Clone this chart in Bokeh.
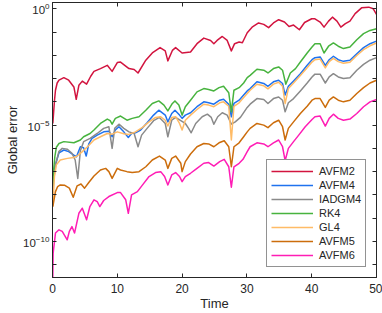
import numpy as np
from bokeh.plotting import figure
from bokeh.models import (Range1d, FixedTicker, LogAxis, LinearAxis, Legend, LegendItem)
from bokeh.embed import file_html
from bokeh.resources import INLINE

# ---- data: time and log10(global error) ----
t_avfm2 = [0.05, 0.31, 0.46, 0.72, 1.0, 1.75, 2.5, 3.3, 3.66, 4.07, 4.6, 5.26, 5.9, 6.4, 7.4,
           8.45, 9.2, 10.0, 10.5, 11.8, 12.6, 13.2, 14.4, 15.4, 16.6, 17.4, 17.8, 18.5, 19.0, 20.0,
           21.3, 22.3, 23.35, 24.4, 24.9, 25.4, 26.2, 26.96, 27.6, 28.1, 28.8, 29.3, 30.05, 30.8, 31.8,
           32.6, 33.35, 34.1, 34.9, 35.8, 36.5, 37.2, 38.1, 38.9, 40.0, 40.5, 41.3, 41.9, 42.6, 43.2,
           43.9, 44.5, 45.2, 45.9, 46.7, 47.7, 48.8, 49.5, 50.0]
lg_avfm2 = [-4.93, -3.93, -3.5, -3.19, -3.07, -2.96, -3.07, -3.36, -3.89, -3.29, -3.11, -3.24, -2.9, -2.69, -2.57,
            -2.43, -2.69, -2.31, -2.29, -2.57, -2.61, -2.76, -2.21, -1.9, -1.67, -1.81, -2.24, -1.79, -1.67, -1.9,
            -1.86, -1.5, -1.26, -1.36, -1.5, -1.36, -1.19, -1.36, -1.81, -1.5, -1.43, -1.46, -1.03, -0.79, -0.61,
            -0.67, -0.81, -0.61, -0.47, -0.57, -0.76, -0.7, -0.9, -0.59, -0.43, -0.43, -0.57, -0.79, -0.53, -0.36,
            -0.53, -0.79, -0.64, -0.53, -0.21, 0.04, 0.07, 0.0, -0.24]

t_avfm4 = [0.05, 0.1, 0.36, 1.0, 1.75, 2.5, 3.3, 3.7, 4.3, 4.8, 5.2, 5.6, 6.1, 6.9, 7.9,
           8.7, 9.2, 9.7, 10.25, 11.0, 11.7, 12.2, 12.8, 13.6, 14.6, 15.6, 16.4, 17.4, 17.8, 18.4,
           18.9, 19.6, 20.0, 20.5, 21.3, 22.3, 23.35, 24.1, 24.9, 25.8, 26.4, 27.2, 27.6, 28.0, 28.8,
           29.5, 30.05, 30.5, 31.55, 32.6, 33.25, 34.1, 34.9, 35.5, 35.9, 36.4, 37.2, 38.25, 39.3, 40.05,
           40.5, 41.3, 42.1, 42.7, 43.35, 44.1, 44.9, 45.9, 46.96, 48.0, 49.0, 50.0]
lg_avfm4 = [-8.0, -7.5, -6.79, -6.19, -6.07, -6.14, -6.29, -6.36, -5.93, -5.97, -6.33, -5.81, -5.57, -5.43, -5.29,
            -5.26, -5.5, -5.21, -5.07, -5.29, -5.53, -5.36, -5.33, -5.21, -4.9, -4.57, -4.36, -4.57, -4.86, -4.5,
            -4.36, -4.57, -4.71, -4.57, -4.47, -4.21, -4.0, -4.04, -4.1, -3.93, -3.89, -4.1, -4.64, -4.07, -3.93,
            -3.71, -3.53, -3.43, -3.14, -3.21, -3.33, -3.14, -3.07, -3.21, -3.71, -3.33, -3.1, -2.79, -2.43, -2.19,
            -2.1, -2.07, -2.43, -2.19, -2.04, -2.19, -2.26, -2.21, -1.93, -1.67, -1.5, -1.39]

t_iadgm4 = [0.05, 0.1, 0.4, 0.98, 1.5, 2.3, 3.0, 3.5, 3.9, 4.3, 4.8, 5.8, 6.9, 7.9, 8.7,
            9.2, 9.6, 10.25, 11.0, 11.8, 12.6, 13.2, 13.75, 14.6, 15.6, 16.5, 17.4, 17.8, 18.4, 19.0,
            19.8, 20.5, 21.0, 21.4, 22.1, 23.1, 23.9, 24.5, 24.9, 25.5, 26.2, 26.96, 27.6, 28.2, 29.0,
            30.05, 30.5, 31.55, 32.6, 33.25, 34.1, 34.9, 35.5, 35.9, 36.4, 37.2, 38.25, 39.3, 40.05, 40.5,
            41.3, 42.1, 42.7, 43.35, 44.1, 44.9, 45.9, 46.96, 48.0, 49.0, 50.0]
lg_iadgm4 = [-8.2, -7.64, -6.79, -6.14, -6.0, -6.04, -6.21, -6.5, -7.29, -6.1, -5.71, -5.57, -5.36, -5.14, -5.07,
             -6.0, -5.14, -4.96, -5.14, -5.29, -5.36, -5.93, -5.43, -5.14, -4.81, -4.67, -4.93, -5.5, -4.79, -4.67,
             -4.81, -4.93, -5.14, -5.33, -4.93, -4.64, -4.53, -4.67, -4.96, -4.64, -4.47, -4.57, -4.96, -4.86, -4.67,
             -4.24, -4.1, -3.86, -3.9, -4.07, -3.86, -3.79, -3.93, -4.43, -4.04, -3.86, -3.53, -3.19, -2.93, -2.81,
             -2.81, -3.19, -2.93, -2.79, -2.93, -3.0, -2.96, -2.64, -2.39, -2.21, -2.1]

t_rk4 = [0.05, 0.15, 0.36, 0.6, 1.0, 1.75, 3.3, 4.3, 4.8, 5.8, 6.4, 7.4, 8.45, 8.9, 9.2,
         9.7, 10.5, 11.5, 12.3, 13.35, 14.4, 15.4, 16.4, 17.2, 17.8, 18.5, 18.9, 19.5, 20.0, 20.5,
         21.3, 22.3, 23.35, 24.1, 24.9, 25.7, 26.4, 27.2, 27.6, 28.0, 28.8, 29.5, 30.05, 30.5, 31.55,
         32.6, 33.25, 34.1, 34.9, 35.5, 36.0, 36.7, 37.5, 38.25, 39.3, 40.05, 40.5, 41.3, 41.9, 42.6,
         43.35, 44.1, 44.9, 45.9, 46.96, 48.0, 49.0, 50.0]
lg_rk4 = [-7.6, -7.0, -6.36, -5.95, -5.79, -5.71, -5.76, -5.64, -5.5, -5.36, -5.21, -4.93, -4.74, -4.81, -4.96,
          -4.71, -4.61, -4.79, -4.71, -4.64, -4.36, -4.07, -3.96, -4.14, -4.39, -4.07, -3.96, -4.14, -4.57, -4.21,
          -3.93, -3.57, -3.43, -3.47, -3.53, -3.39, -3.33, -3.61, -4.43, -3.5, -3.39, -3.19, -2.96, -2.86, -2.6,
          -2.64, -2.76, -2.57, -2.5, -2.64, -3.24, -2.76, -2.57, -2.29, -1.9, -1.64, -1.5, -1.5, -1.9, -1.61,
          -1.47, -1.61, -1.71, -1.64, -1.33, -1.07, -0.93, -0.86]

t_gl4 = [0.05, 0.3, 0.6, 1.2, 2.3, 3.3, 3.8, 4.6, 5.4, 6.4, 7.4, 8.45, 9.2, 10.0, 11.0,
         11.8, 12.8, 13.9, 14.9, 15.9, 16.7, 17.4, 17.8, 18.4, 19.0, 19.6, 20.0, 20.5, 21.3, 22.3,
         23.35, 24.1, 24.9, 25.8, 26.4, 27.2, 27.6, 28.0, 28.8, 29.5, 30.05, 30.5, 31.55, 32.6, 33.25,
         34.1, 34.9, 35.5, 35.9, 36.4, 37.2, 38.25, 39.3, 40.05, 40.5, 41.3, 42.1, 42.7, 43.35, 44.1,
         44.9, 45.9, 46.96, 48.0, 49.0, 50.0]
lg_gl4 = [-8.5, -7.21, -6.71, -6.5, -6.43, -6.39, -6.33, -6.14, -5.93, -5.64, -5.5, -5.36, -5.39, -5.29, -5.37,
          -5.4, -5.29, -5.1, -4.86, -4.67, -4.64, -4.79, -5.04, -4.67, -4.64, -4.93, -5.21, -4.79, -4.57, -4.33,
          -4.1, -4.14, -4.21, -4.04, -4.0, -4.19, -5.64, -4.19, -4.04, -3.81, -3.64, -3.5, -3.24, -3.31, -3.44,
          -3.24, -3.16, -3.33, -4.07, -3.43, -3.19, -2.87, -2.53, -2.29, -2.19, -2.16, -2.54, -2.27, -2.13, -2.27,
          -2.34, -2.3, -2.01, -1.76, -1.59, -1.47]

t_avfm5 = [0.05, 0.46, 0.8, 1.2, 1.9, 2.6, 3.2, 3.8, 4.4, 4.95, 5.6, 6.4, 7.4, 8.2, 8.7,
           9.2, 10.0, 10.5, 11.5, 12.3, 13.35, 14.4, 15.4, 16.5, 17.4, 17.8, 18.4, 19.0, 19.8, 20.0,
           20.5, 21.3, 22.3, 23.35, 24.1, 24.9, 25.7, 26.5, 27.2, 27.6, 28.0, 28.8, 29.5, 30.05, 30.5,
           31.55, 32.6, 33.25, 34.1, 34.9, 35.5, 35.9, 36.4, 37.2, 38.25, 39.3, 40.05, 40.5, 41.3, 42.1,
           42.7, 43.35, 44.1, 44.9, 45.9, 46.96, 48.0, 49.0, 50.0]
lg_avfm5 = [-8.5, -7.86, -7.64, -7.57, -7.59, -7.71, -8.1, -7.61, -7.53, -7.71, -7.47, -7.19, -6.93, -6.86, -7.0,
            -7.29, -6.86, -6.93, -7.0, -7.04, -7.0, -6.79, -6.5, -6.33, -6.5, -6.86, -6.43, -6.33, -6.64, -7.0,
            -6.57, -6.24, -5.93, -5.79, -5.81, -5.93, -5.76, -5.67, -5.93, -6.79, -5.93, -5.76, -5.5, -5.29, -5.14,
            -4.93, -5.0, -5.11, -4.9, -4.79, -5.07, -5.64, -5.14, -4.86, -4.5, -4.19, -3.93, -3.86, -3.86, -4.24,
            -3.93, -3.79, -3.93, -4.0, -3.93, -3.64, -3.39, -3.19, -3.07]

t_avfm6 = [0.02, 0.1, 0.46, 1.0, 1.5, 2.27, 2.6, 3.0, 3.4, 4.07, 4.6, 5.26, 5.77, 6.4, 6.9,
           7.3, 7.9, 8.7, 10.0, 10.5, 11.3, 11.7, 12.2, 13.1, 13.9, 14.9, 15.9, 16.7, 17.3, 17.8,
           18.4, 19.0, 19.6, 20.0, 20.5, 21.3, 22.3, 23.35, 24.1, 24.9, 25.8, 26.5, 27.2, 27.6, 28.0,
           28.8, 29.4, 30.05, 30.5, 31.55, 32.6, 33.25, 34.1, 34.9, 35.5, 35.9, 36.4, 37.2, 38.0, 39.0,
           40.05, 40.5, 41.3, 42.1, 42.7, 43.35, 44.1, 44.9, 45.9, 46.96, 48.0, 49.0, 50.0]
lg_avfm6 = [-12.0, -10.5, -9.64, -9.5, -9.57, -9.93, -9.57, -9.36, -9.64, -8.79, -8.57, -9.07, -8.5, -8.21, -8.29,
            -8.5, -8.24, -8.07, -7.9, -7.9, -8.21, -8.79, -8.0, -7.86, -7.57, -7.21, -7.04, -7.0, -7.21, -7.57,
            -7.14, -7.04, -7.21, -7.43, -7.21, -7.07, -6.86, -6.64, -6.61, -6.76, -6.57, -6.47, -6.79, -7.67, -6.79,
            -6.64, -6.47, -6.14, -5.93, -5.76, -5.81, -5.93, -5.76, -5.64, -5.93, -6.53, -6.0, -5.71, -5.43, -5.07,
            -4.76, -4.64, -4.61, -5.04, -4.71, -4.53, -4.71, -4.79, -4.74, -4.5, -4.21, -4.0, -3.9]

names = ["AVFM2", "AVFM4", "IADGM4", "RK4", "GL4", "AVFM5", "AVFM6"]
colors = ["#D2143F", "#1F72EE", "#8A8A8A", "#47B33E", "#FFBB66", "#CC6D0C", "#FF1DB5"]
times = [t_avfm2, t_avfm4, t_iadgm4, t_rk4, t_gl4, t_avfm5, t_avfm6]
logs = [lg_avfm2, lg_avfm4, lg_iadgm4, lg_rk4, lg_gl4, lg_avfm5, lg_avfm6]

x_ticks = [0, 10, 20, 30, 40, 50]
y_label_exps = [-10, -5, 0]
y_tick_exps = [-11, -9, -8, -7, -6, -4, -3, -2, -1]

FONT = "Liberation Sans"
INK = "#262626"

p = figure(width=382, height=313, output_backend="svg", toolbar_location=None,
           x_range=Range1d(0, 50), y_range=Range1d(10 ** -11.55, 10 ** 0.27),
           y_axis_type="log",
           min_border_left=52, min_border_right=6, min_border_top=2, min_border_bottom=35)
p.grid.visible = False
p.outline_line_color = INK
p.outline_line_width = 1
p.background_fill_color = "white"
p.border_fill_color = "white"


def style_axis(ax, size="12px"):
    ax.axis_line_color = INK
    for kind in ("major", "minor"):
        setattr(ax, kind + "_tick_line_color", INK)
        setattr(ax, kind + "_tick_in", 4)
        setattr(ax, kind + "_tick_out", 0)
    ax.major_label_text_font = FONT
    ax.major_label_text_color = INK
    ax.major_label_text_font_size = size
    ax.axis_label_text_font = FONT
    ax.axis_label_text_color = INK
    ax.axis_label_text_font_style = "normal"
    ax.axis_label_text_font_size = "13px"


xa = p.xaxis[0]
xa.ticker = FixedTicker(ticks=x_ticks, minor_ticks=[])
style_axis(xa)
xa.axis_label = "Time"
xa.major_label_standoff = 6
xa.axis_label_standoff = 0

ya = p.yaxis[0]
ya.ticker = FixedTicker(ticks=[10.0 ** e for e in y_label_exps],
                        minor_ticks=[10.0 ** e for e in y_tick_exps])
style_axis(ya, "11.5px")
ya.axis_label = "Global error"
ya.major_label_standoff = 3
ya.axis_label_standoff = 0

top = LinearAxis(ticker=FixedTicker(ticks=[], minor_ticks=x_ticks))
style_axis(top)
top.major_label_standoff = 0
p.add_layout(top, "above")
right = LogAxis(ticker=FixedTicker(ticks=[], minor_ticks=[10.0 ** e for e in sorted(y_label_exps + y_tick_exps)]))
style_axis(right)
right.major_label_standoff = 0
p.add_layout(right, "right")

items = []
for name, col, tt, lg in zip(names, colors, times, logs):
    r = p.line(np.array(tt), 10.0 ** np.array(lg), line_color=col, line_width=1.5,
               line_join="round")
    items.append(LegendItem(label=name, renderers=[r]))

legend = Legend(items=items, location=(214, 10),
                border_line_color=INK, border_line_width=0.8,
                background_fill_color="white", background_fill_alpha=1.0,
                label_text_font=FONT, label_text_font_size="11px", label_text_color=INK,
                glyph_width=42, glyph_height=14, label_height=14, label_standoff=6,
                padding=4, spacing=0, margin=0)
p.add_layout(legend)

open("out.html", "w").write(file_html(p, INLINE))
